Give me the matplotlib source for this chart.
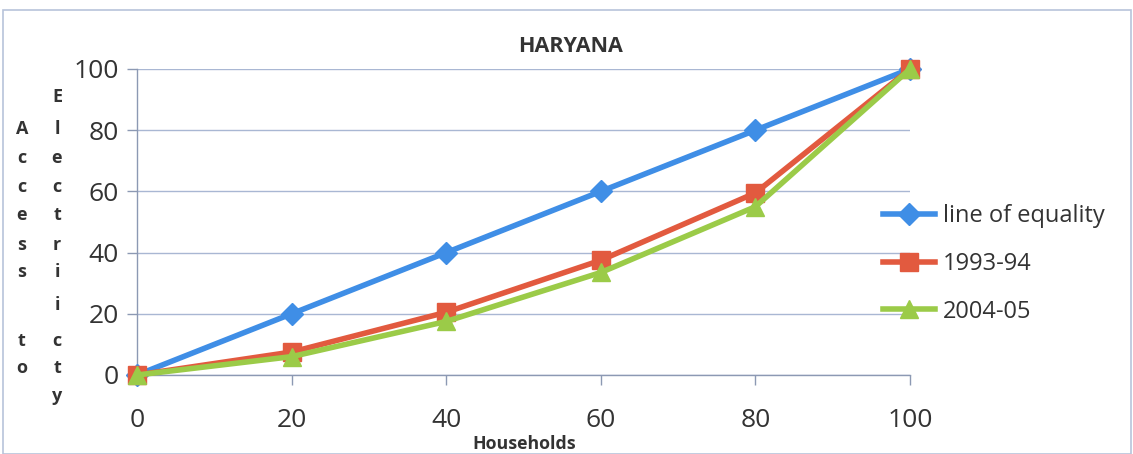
import matplotlib.pyplot as plt
from matplotlib.patches import Rectangle

plt.rcParams['font.family'] = ['Open Sans', 'DejaVu Sans']

# Data
households = [0, 20, 40, 60, 80, 100]
line_of_equality = [0, 20, 40, 60, 80, 100]
access_1993_94 = [0, 7.5, 20.5, 37.5, 59.5, 100]
access_2004_05 = [0, 6, 17.5, 33.5, 55, 100]
series_labels = ['line of equality', '1993-94', '2004-05']
x_ticks = [0, 20, 40, 60, 80, 100]
y_ticks = [0, 20, 40, 60, 80, 100]

blue = '#3F8EE6'
red = '#E25A3F'
green = '#9BCB48'
grid_col = '#A9B7D3'
text_col = '#333333'

fig = plt.figure(figsize=(11.33, 4.54), dpi=100)
fig.patch.set_facecolor('white')

# Outer chart border
fig.add_artist(Rectangle((3 / 1133, 0.0), 1 - 5 / 1133, 1 - 10 / 454,
                         transform=fig.transFigure, fill=False,
                         edgecolor='#B8C4DA', linewidth=1.2))

ax = fig.add_axes([137 / 1133, 79 / 454, 773 / 1133, 306 / 454])
ax.set_xlim(0, 100)
ax.set_ylim(0, 100)

ax.plot(households, line_of_equality, color=blue, lw=4, marker='D',
        ms=11, mec=blue, mfc=blue, label=series_labels[0], zorder=3)
ax.plot(households, access_1993_94, color=red, lw=4, marker='s',
        ms=13, mec=red, mfc=red, label=series_labels[1], zorder=4)
ax.plot(households, access_2004_05, color=green, lw=4, marker='^',
        ms=13, mec=green, mfc=green, label=series_labels[2], zorder=5)
for line in ax.lines:
    line.set_clip_on(False)

ax.set_xticks(x_ticks)
ax.set_yticks(y_ticks)
ax.set_xticklabels([str(v) for v in x_ticks])
ax.set_yticklabels([str(v) for v in y_ticks])
ax.tick_params(axis='both', labelsize=19, colors=text_col, length=7,
               width=1, color='#8C99B3')
ax.tick_params(axis='x', pad=17)
ax.tick_params(axis='y', pad=6)
ax.grid(axis='y', color=grid_col, lw=1)
ax.set_axisbelow(True)
for side in ['top', 'right']:
    ax.spines[side].set_visible(False)
for side in ['left', 'bottom']:
    ax.spines[side].set_color('#8C99B3')
    ax.spines[side].set_linewidth(1)

fig.text(571 / 1133, 1 - 47 / 454, 'HARYANA', ha='center', va='center',
         fontsize=15.5, fontweight='bold', color=text_col)
fig.text(524 / 1133, 1 - 444 / 454, 'Households', ha='center', va='center',
         fontsize=12.8, fontweight='bold', color=text_col)

# Stacked y-axis title letters
col1 = ['', 'A', 'c', 'c', 'e', 's', 's', '', 't', 'o']
col2 = ['E', 'l', 'e', 'c', 't', 'r', 'i', 'i', 'c', 't', 'y']
rows_y = [97, 129, 158, 187, 215, 245, 272, 305, 341, 368, 396]
for ch, yy in zip(col1, rows_y):
    if ch:
        fig.text(22 / 1133, 1 - yy / 454, ch, ha='center', va='center',
                 fontsize=13, fontweight='bold', color=text_col)
for ch, yy in zip(col2, rows_y):
    fig.text(57 / 1133, 1 - yy / 454, ch, ha='center', va='center',
             fontsize=13, fontweight='bold', color=text_col)

leg = fig.legend(loc='center left', bbox_to_anchor=(883 / 1133, 1 - 264 / 454),
                 frameon=False, fontsize=17, handlelength=2.2,
                 handletextpad=0.35, labelspacing=1.0, borderpad=0,
                 borderaxespad=0, labelcolor=text_col)

fig.savefig('out.png', dpi=100, facecolor='white')
